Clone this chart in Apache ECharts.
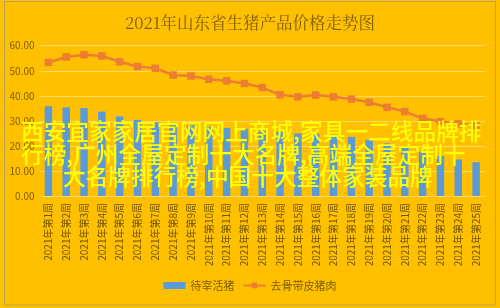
<!DOCTYPE html>
<html>
<head>
<meta charset="utf-8">
<script src="https://cdn.jsdelivr.net/npm/echarts@6/dist/echarts.min.js"></script>
<style>
html,body{margin:0;padding:0;background:#FFC000;}
#c{width:500px;height:308px;}
</style>
</head>
<body>
<div id="c"></div>
<script>
var titleText = '2021年山东省生猪产品价格走势图';
var categories = ['2021年第1周','2021年第2周','2021年第3周','2021年第4周','2021年第5周','2021年第6周','2021年第7周','2021年第8周','2021年第9周','2021年第10周','2021年第11周','2021年第12周','2021年第13周','2021年第14周','2021年第15周','2021年第16周','2021年第17周','2021年第18周','2021年第19周','2021年第20周','2021年第21周','2021年第22周','2021年第23周','2021年第24周','2021年第25周'];
var seriesNames = ['待宰活猪','去骨带皮猪肉'];
var livePig = [35.8,35.4,35.1,33.7,31.8,30.4,29.4,28.8,28.2,27.6,27.2,26.8,26.0,25.6,25.0,24.8,24.4,23.6,22.4,21.0,19.8,17.6,16.0,14.6,13.5];
var pork = [53.3,55.5,56.4,55.9,53.6,51.7,51.0,48.3,47.9,46.6,46.0,44.9,43.3,40.4,39.6,40.3,39.6,38.7,37.4,35.4,33.7,31.0,29.7,28.8,28.0];
var yTicks = {min:0, max:60, interval:10};
var overlayLines = ['西安宜家家居官网网上商城,家具一二线品牌排','行榜,广州全屋定制十大名牌,高端全屋定制十','大名牌排行榜,中国十大整体家装品牌'];

var FONT = '"Noto Sans CJK SC","Noto Sans",sans-serif';
var SERIF = '"Noto Serif CJK SC","DejaVu Serif","Noto Sans CJK SC",serif';
var chart = echarts.init(document.getElementById('c'), null, {renderer:'canvas'});
chart.setOption({
  backgroundColor:'#FFC000',
  animation:false,
  title:{text:titleText,left:'center',top:9,textStyle:{fontFamily:SERIF,fontSize:16.5,fontWeight:'normal',color:'#7F6000'}},
  grid:{left:39.5,right:15,top:45.7,bottom:112,containLabel:false},
  legend:{bottom:12,left:'center',itemGap:8,itemWidth:22,itemHeight:7,
    textStyle:{fontFamily:FONT,fontSize:11,color:'#7F6000'},
    data:[{name:seriesNames[0],icon:'rect'},{name:seriesNames[1]}]},
  xAxis:{type:'category',data:categories,
    axisLine:{lineStyle:{color:'#FFD966'}},axisTick:{show:false},
    axisLabel:{rotate:90,interval:0,fontFamily:FONT,fontSize:10,color:'#6F5400',margin:7}},
  yAxis:{type:'value',min:yTicks.min,max:yTicks.max,interval:yTicks.interval,
    axisLine:{show:false},axisTick:{show:false},
    splitLine:{lineStyle:{color:'#FFD966',width:1}},
    axisLabel:{formatter:function(v){return v.toFixed(2);},fontFamily:FONT,fontSize:10,color:'#7F6000',margin:5}},
  series:[
    {name:seriesNames[0],type:'bar',data:livePig,barWidth:'42%',itemStyle:{color:'#5B9BD5'}},
    {name:seriesNames[1],type:'line',data:pork,symbol:'rect',symbolSize:7.5,
      lineStyle:{color:'#ED7D31',width:2.5},itemStyle:{color:'#ED7D31'}}
  ],
  graphic:[
    {type:'rect',shape:{x:4.5,y:1.5,width:491,height:303.5},style:{fill:'none',stroke:'#B8A35A',lineWidth:1},silent:true,z:100},
    {type:'text',left:21,top:120,style:{text:overlayLines[0],font:'500 22.7px '+FONT,fill:'#FFFF00'},z:100},
    {type:'text',left:21,top:143,style:{text:overlayLines[1],font:'500 22.7px '+FONT,fill:'#FFFF00'},z:100},
    {type:'text',left:63,top:165,style:{text:overlayLines[2],font:'500 22.7px '+FONT,fill:'#FFFF00'},z:100}
  ]
});
</script>
</body>
</html>
